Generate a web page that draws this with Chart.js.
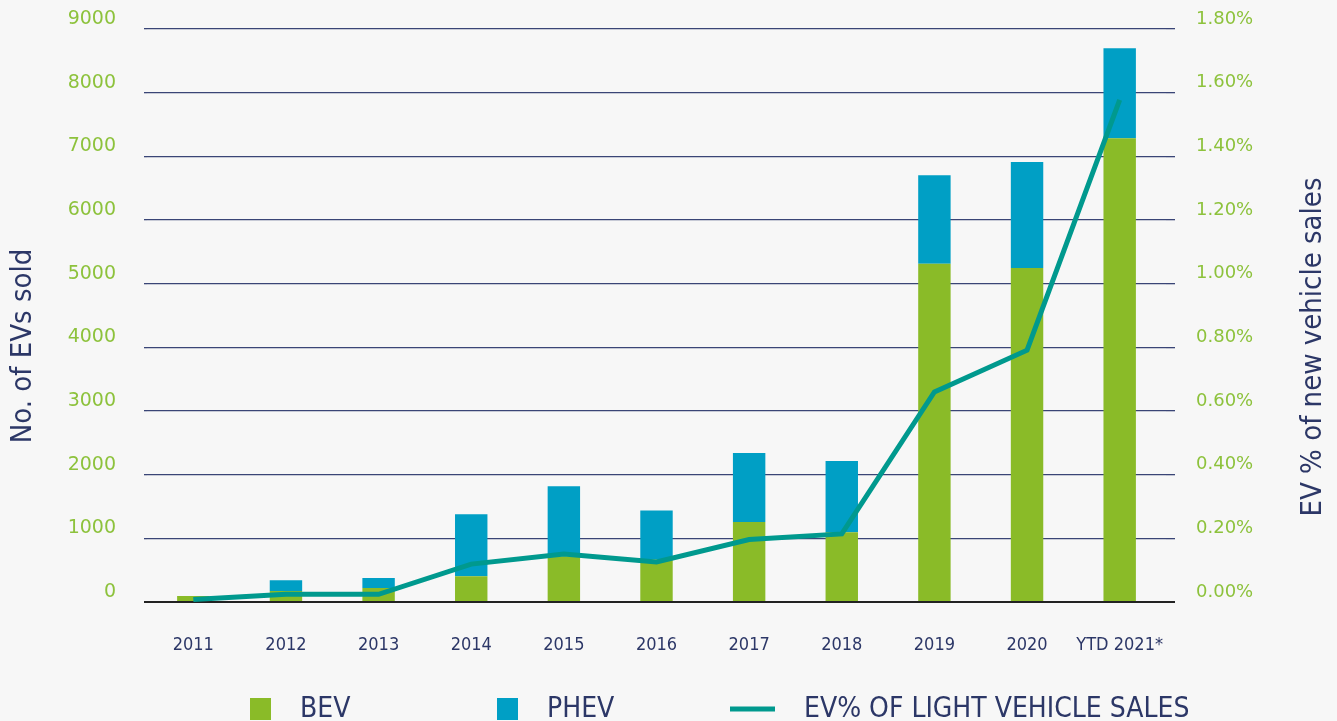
<!DOCTYPE html>
<html>
<head>
<meta charset="utf-8">
<script src="https://cdn.jsdelivr.net/npm/chart.js@4.4.1/dist/chart.umd.min.js"></script>
<style>
  html, body { margin: 0; padding: 0; background: #f7f7f7; }
  #wrap { width: 1337px; height: 721px; }
</style>
</head>
<body>
<div id="wrap"><canvas id="grafica" width="1337" height="721"></canvas></div>
<script>
const YEARS = ["2011", "2012", "2013", "2014", "2015", "2016", "2017", "2018", "2019", "2020", "YTD 2021*"];
const BEV = [95, 173, 220, 404, 720, 668, 1258, 1097, 5311, 5246, 7283];
const PHEV = [0, 168, 158, 975, 1097, 768, 1081, 1117, 1392, 1664, 1415];
const EV_PCT = [0.008, 0.024, 0.024, 0.119, 0.151, 0.126, 0.196, 0.214, 0.66, 0.791, 1.577];
const LABELS = ["BEV", "PHEV", "EV% OF LIGHT VEHICLE SALES"];
const TITULOS = ["No. of EVs sold", "EV % of new vehicle sales"];

const GREEN = "#8abb28";
const BLUE = "#009fc5";
const TEAL = "#00998e";
const NAVY = "#2c3767";
const TICK_GREEN = "#8dc23c";
const NARROW = "'DejaVu Sans Condensed', 'Liberation Sans Narrow', sans-serif";

// leyenda y titulos de ejes dibujados a mano (ambos titulos leen de abajo hacia arriba)
const extras = {
  id: "extras",
  afterDraw(chart) {
    const ctx = chart.ctx;
    const xs = [250, 497, 730];
    const y = 709;
    ctx.save();
    ctx.font = `28px ${NARROW}`;
    ctx.textBaseline = "middle";
    chart.data.datasets.forEach((d, i) => {
      const x = xs[i];
      let tx;
      if (d.type === "line") {
        ctx.strokeStyle = d.borderColor;
        ctx.lineWidth = 5;
        ctx.beginPath();
        ctx.moveTo(x, y);
        ctx.lineTo(x + 45, y);
        ctx.stroke();
        tx = x + 74;
      } else {
        ctx.fillStyle = d.backgroundColor;
        ctx.fillRect(x, y - 11, 21, 22);
        tx = x + 50;
      }
      ctx.fillStyle = NAVY;
      ctx.fillText(d.label, tx, y + 1);
    });

    ctx.font = `29px ${NARROW}`;
    ctx.textAlign = "center";
    [[23, 346, TITULOS[0]], [1313, 347, TITULOS[1]]].forEach(([tx, ty, t]) => {
      ctx.save();
      ctx.translate(tx, ty);
      ctx.rotate(-Math.PI / 2);
      ctx.fillText(t, 0, 0);
      ctx.restore();
    });
    ctx.restore();
  }
};

const gridColor = c => c.tick.value === 0 ? "#222222" : "#3a4576";
const gridWidth = c => c.tick.value === 0 ? 2 : 1.3;

const chart = new Chart(document.getElementById("grafica"), {
  data: {
    labels: YEARS,
    datasets: [
      { type: "bar", label: LABELS[0], data: BEV, backgroundColor: GREEN, yAxisID: "y", order: 1,
        barPercentage: 0.35, categoryPercentage: 1 },
      { type: "bar", label: LABELS[1], data: PHEV, backgroundColor: BLUE, yAxisID: "y", order: 1,
        barPercentage: 0.35, categoryPercentage: 1 },
      { type: "line", label: LABELS[2], data: EV_PCT, borderColor: TEAL, backgroundColor: TEAL,
        borderWidth: 5, pointRadius: 0, tension: 0, yAxisID: "y1", order: 0 }
    ]
  },
  options: {
    responsive: false,
    animation: false,
    layout: { padding: { top: 29, bottom: 0, left: 0, right: 0 } },
    plugins: {
      legend: { display: false },
      tooltip: { enabled: false }
    },
    scales: {
      x: {
        stacked: true,
        grid: { display: false },
        border: { display: false },
        ticks: { color: NAVY, font: { family: NARROW, size: 18 }, padding: 25, maxRotation: 0, autoSkip: false },
        afterFit: s => { s.height = 119; }
      },
      y: {
        stacked: true,
        position: "left",
        min: 0, max: 9000,
        border: { display: false },
        grid: { color: gridColor, lineWidth: gridWidth, tickLength: 3 },
        ticks: {
          stepSize: 1000, color: TICK_GREEN, padding: 28, labelOffset: -10,
          font: { family: "'DejaVu Sans', sans-serif", size: 19 },
          callback: v => String(v)
        },
        afterFit: s => { s.width = 147; s.paddingTop = 0; s.paddingBottom = 0; }
      },
      y1: {
        position: "right",
        min: 0, max: 1.8,
        border: { display: false },
        grid: { drawOnChartArea: false, color: gridColor, lineWidth: gridWidth, tickLength: 9 },
        ticks: {
          stepSize: 0.2, color: TICK_GREEN, padding: 21, labelOffset: -10,
          font: { family: "'DejaVu Sans', sans-serif", size: 18 },
          callback: v => v.toFixed(2) + "%"
        },
        afterFit: s => { s.width = 171; s.paddingTop = 0; s.paddingBottom = 0; }
      }
    }
  },
  plugins: [extras]
});
</script>
</body>
</html>
